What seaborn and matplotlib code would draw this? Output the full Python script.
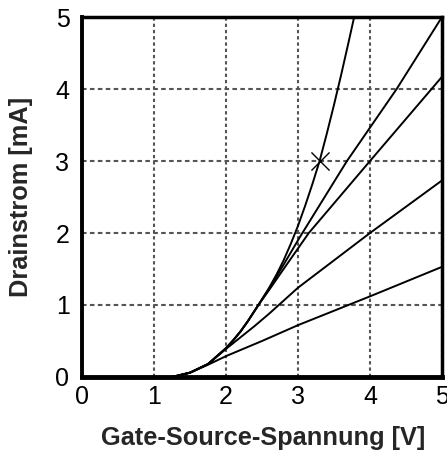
import numpy as np
import pandas as pd
import matplotlib
matplotlib.use('Agg')
import matplotlib.pyplot as plt
import seaborn as sns

# ==================== Daten ====================
# gemeinsamer Anfang aller Kennlinien
x_start = [1.25, 1.5, 1.75]
y_start = [0.0, 0.06, 0.18]

# gemeinsamer Teil der drei steilen Kennlinien
x_oben = [2.0, 2.1, 2.2, 2.3, 2.45]
y_oben = [0.40, 0.51, 0.63, 0.77, 1.0]

# Kennlinie 1 (steilste, mit Arbeitspunkt)
x_k1 = x_start + x_oben + [2.6, 2.7, 2.8, 2.9, 3.0, 3.1, 3.2, 3.3, 3.4, 3.5, 3.6, 3.7, 3.78]
y_k1 = y_start + y_oben + [1.24, 1.42, 1.62, 1.85, 2.1, 2.38, 2.68, 3.0, 3.38, 3.78, 4.2, 4.64, 5.0]

# Kennlinie 2
x_k2 = x_start + x_oben + [2.6, 2.8, 3.03, 3.68, 4.37, 5.0]
y_k2 = y_start + y_oben + [1.23, 1.56, 1.95, 3.0, 4.0, 5.0]

# Kennlinie 3
x_k3 = x_start + x_oben + [2.6, 2.8, 3.15, 4.0, 5.0]
y_k3 = y_start + y_oben + [1.21, 1.5, 2.0, 3.0, 4.17]

# Kennlinie 4
x_k4 = x_start + [2.0, 2.2, 2.4, 2.6, 2.8, 3.0, 4.0, 5.0]
y_k4 = y_start + [0.39, 0.55, 0.71, 0.88, 1.06, 1.24, 2.0, 2.73]

# Kennlinie 5 (flachste)
x_k5 = x_start + [2.0, 2.5, 3.0, 4.0, 5.0]
y_k5 = [0.0, 0.06, 0.17] + [0.29, 0.50, 0.72, 1.12, 1.53]

# Arbeitspunkt
ap_x = [3.3]
ap_y = [3.0]

ticks = [0, 1, 2, 3, 4, 5]

kurven = [(x_k1, y_k1), (x_k2, y_k2), (x_k3, y_k3), (x_k4, y_k4), (x_k5, y_k5)]

# ==================== Stil ====================
sns.set_style('white')
plt.rcParams['font.family'] = ['Liberation Sans', 'DejaVu Sans']

fig = plt.figure(figsize=(4.47, 4.53), dpi=100)
ax = fig.add_axes([82 / 447, 1 - 377 / 453, 360 / 447, 360 / 453])

# Gitter
for t in ticks[1:]:
    ax.axhline(t, color='#555555', linestyle=(0, (2.2, 1.6)), linewidth=1.5, zorder=1)
    ax.axvline(t, color='#555555', linestyle=(0, (1.6, 1.4)), linewidth=1.5, zorder=1)

# Kennlinien
for xs, ys in kurven:
    df = pd.DataFrame({'U': xs, 'I': ys})
    sns.lineplot(data=df, x='U', y='I', sort=False, estimator=None,
                 color='black', linewidth=1.4, ax=ax, zorder=3)

# Arbeitspunkt
sns.scatterplot(x=ap_x, y=ap_y, marker='x', s=170, color='black',
                linewidth=1.0, ax=ax, zorder=4)

ax.set_xlim(0, 5)
ax.set_ylim(0, 5)
ax.set_xticks(ticks)
ax.set_yticks(ticks)
ax.tick_params(axis='both', which='major', length=0, labelsize=18, colors='black')
ax.tick_params(axis='y', which='major', pad=9)
ax.tick_params(axis='x', which='major', pad=6)
ax.set_xticks([0], minor=True)
ax.set_yticks([0], minor=True)
ax.tick_params(which='minor', length=7, width=1.5, color='black', direction='out')

for name, spine in ax.spines.items():
    spine.set_visible(True)
    spine.set_color('black')
    spine.set_linewidth(2.5)
    spine.set_zorder(5)
ax.spines['bottom'].set_linewidth(3.5)
ax.spines['left'].set_linewidth(2.8)

ax.set_xlabel('Gate-Source-Spannung [V]', fontsize=18.3, fontweight='bold')
ax.set_ylabel('Drainstrom [mA]', fontsize=18.3, fontweight='bold')
ax.xaxis.set_label_coords(0.504, -0.136)
ax.yaxis.set_label_coords(-0.136, 0.5)

fig.savefig('out.png', dpi=100)
